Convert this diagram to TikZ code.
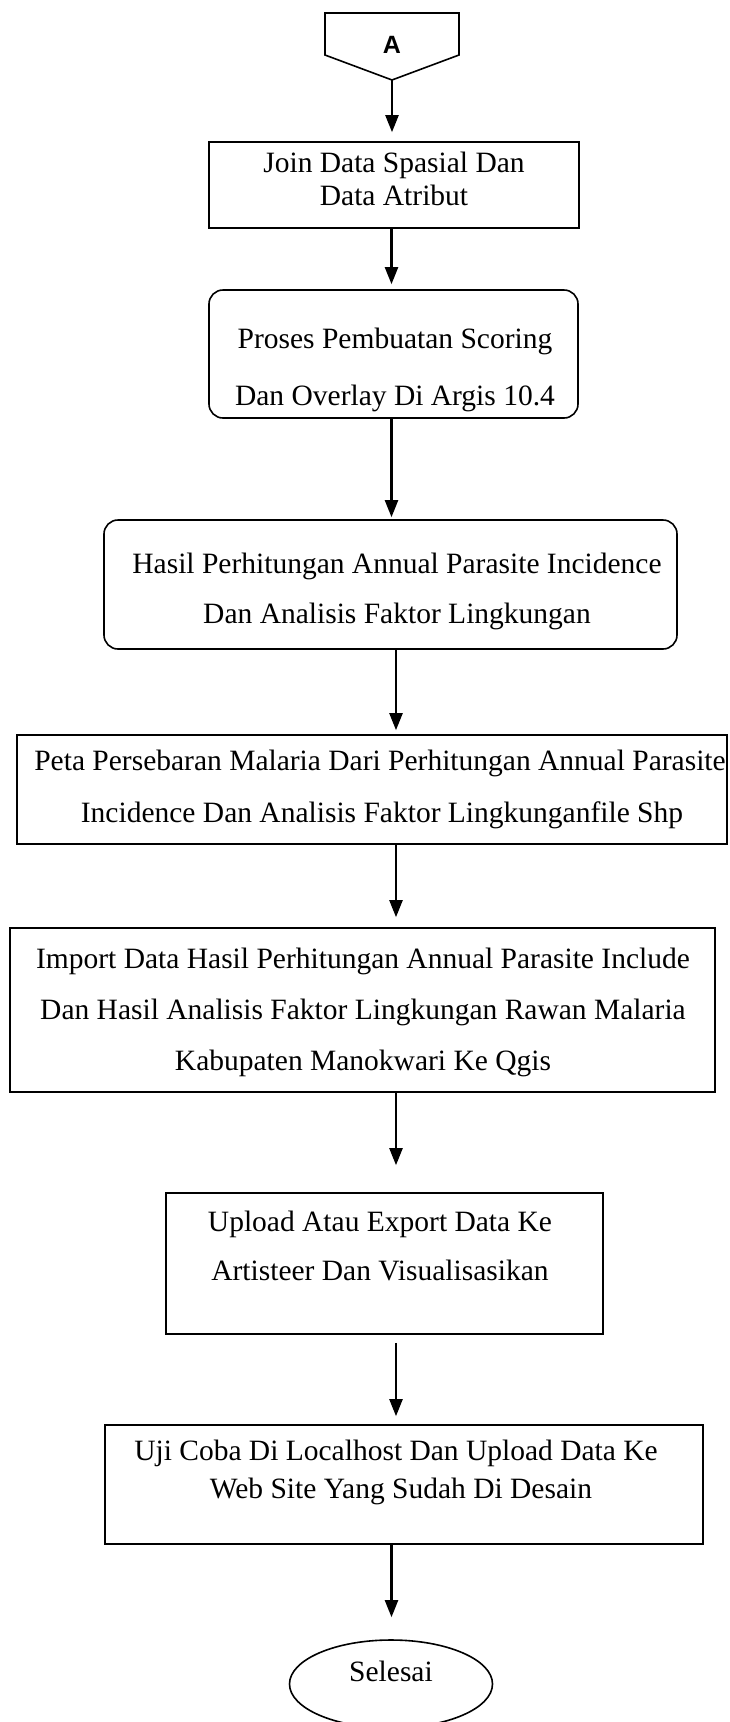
\documentclass[tikz,border=0pt]{standalone}
\usepackage{fontspec}
\setmainfont{Liberation Serif}
\newfontfamily\sansbold{Liberation Sans}
\usetikzlibrary{arrows.meta,shapes.geometric}
\begin{document}
\begin{tikzpicture}[x=1pt,y=-1pt,
  box/.style={draw, line width=1.6pt, inner sep=0pt},
  rbox/.style={box, rounded corners=14pt},
  txt/.style={anchor=base, inner sep=0pt, font=\fontsize{29.5}{34}\selectfont},
  arr/.style={line width=2.2pt, -{Triangle[width=13pt,length=17pt]}}]
\useasboundingbox (0,0) rectangle (729,1722);
\fill[white] (0,0) rectangle (729,1722);

% off-page connector A
\draw[line width=1.6pt] (325,13) -- (459,13) -- (459,55) -- (392,80) -- (325,55) -- cycle;
\node[font=\sansbold\bfseries\fontsize{25}{28}\selectfont, inner sep=0pt] (A) at (392,45) {A};
\coordinate (Apt) at (392,80);
\coordinate (ax1) at (391.5,0);
\coordinate (ax2) at (396,0);

% boxes
\node[box, minimum width=370pt, minimum height=86pt] (join) at (394,185) {};
\node[rbox, minimum width=369pt, minimum height=128pt] (proses) at (393.5,354) {};
\node[rbox, minimum width=573pt, minimum height=129pt] (hasil) at (390.5,584.5) {};
\node[box, minimum width=710pt, minimum height=109pt] (peta) at (372,789.5) {};
\node[box, minimum width=705pt, minimum height=164pt] (import) at (362.5,1010) {};
\node[box, minimum width=437pt, minimum height=141pt] (upload) at (384.5,1263.5) {};
\node[box, minimum width=598pt, minimum height=119pt] (uji) at (404,1484.5) {};
\node[draw, ellipse, line width=1.6pt, inner sep=0pt, minimum width=203pt, minimum height=88pt] (selesai) at (391,1684) {};

% texts
\node[txt] (join1) at (394,172) {Join Data Spasial Dan};
\node[txt] (join2) at (394,205) {Data Atribut};
\node[txt] (proses1) at (395,348) {Proses Pembuatan Scoring};
\node[txt] (proses2) at (395,405) {Dan Overlay Di Argis 10.4};
\node[txt] (hasil1) at (397,573) {Hasil Perhitungan Annual Parasite Incidence};
\node[txt] (hasil2) at (397,623) {Dan Analisis Faktor Lingkungan};
\node[txt] (peta1) at (380,770) {Peta Persebaran Malaria Dari Perhitungan Annual Parasite};
\node[txt] (peta2) at (382,822) {Incidence Dan Analisis Faktor Lingkunganfile Shp};
\node[txt] (import1) at (363,968) {Import Data Hasil Perhitungan Annual Parasite Include};
\node[txt] (import2) at (363,1019) {Dan Hasil Analisis Faktor Lingkungan Rawan Malaria};
\node[txt] (import3) at (363,1070) {Kabupaten Manokwari Ke Qgis};
\node[txt] (upload1) at (380,1231) {Upload Atau Export Data Ke};
\node[txt] (upload2) at (380,1280) {Artisteer Dan Visualisasikan};
\node[txt] (uji1) at (396,1460) {Uji Coba Di Localhost Dan Upload Data Ke};
\node[txt] (uji2) at (401,1498) {Web Site Yang Sudah Di Desain};
\node[txt] (selesai1) at (391,1681) {Selesai};

% connectors
\draw[arr, shorten >=9pt] (Apt) -- (Apt |- join.north);
\draw[arr, shorten >=5pt] (join.south -| ax1) -- (proses.north -| ax1);
\draw[arr, shorten >=2pt] (proses.south -| ax1) -- (hasil.north -| ax1);
\draw[arr, shorten >=4pt] (hasil.south -| ax2) -- (peta.north -| ax2);
\draw[arr, shorten >=10pt] (peta.south -| ax2) -- (import.north -| ax2);
\draw[arr, shorten >=27pt] (import.south -| ax2) -- (upload.north -| ax2);
\draw[arr, shorten <=8pt, shorten >=8pt] (upload.south -| ax2) -- (uji.north -| ax2);
\draw[arr, shorten >=22pt] (uji.south -| ax1) -- (selesai.north -| ax1);
\end{tikzpicture}
\end{document}
